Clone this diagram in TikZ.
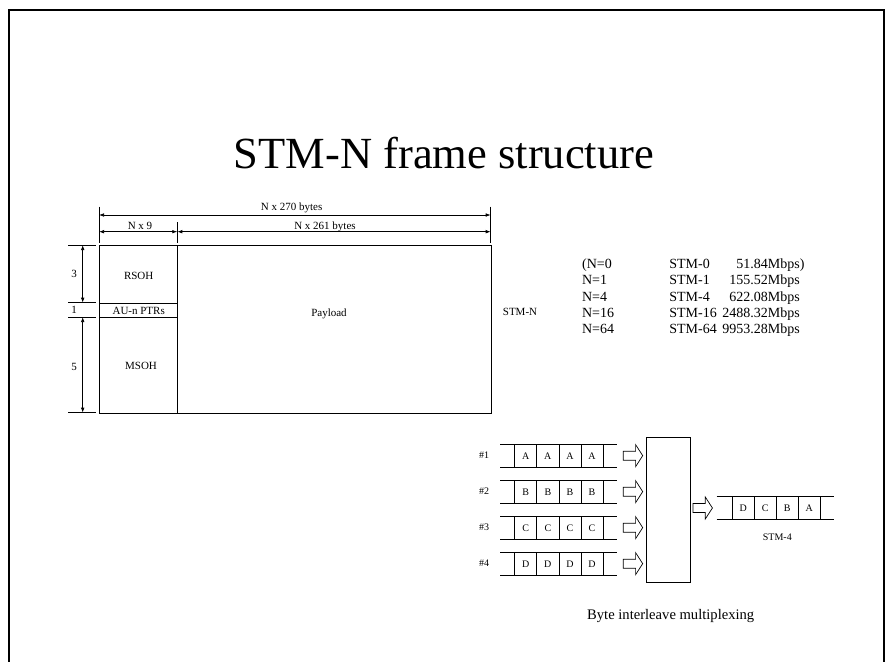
\documentclass[tikz,border=0pt]{standalone}
\usepackage{fontspec}
\setmainfont{Liberation Serif}
\usetikzlibrary{arrows.meta}
\begin{document}
\begin{tikzpicture}[x=1pt,y=-1pt,line width=0.8pt,
  lbl/.style={font=\fontsize{11}{13}\selectfont,inner sep=0pt,anchor=base},
  tbl/.style={font=\fontsize{14}{16}\selectfont,inner sep=0pt,anchor=base west},
  sml/.style={font=\fontsize{10}{12}\selectfont,inner sep=0pt,anchor=base},
  dim/.style={{Latex[length=5pt,width=3.6pt]}-{Latex[length=5pt,width=3.6pt]},line width=0.7pt},
  cell/.style={draw,inner sep=0pt,minimum width=22.1pt,minimum height=22.7pt,font=\fontsize{10}{12}\selectfont},
  blockarr/.pic={\draw[line width=0.7pt] (-9.7,-4.5) -- (2.6,-4.5) -- (2.6,-11) -- (9.7,0) -- (2.6,11) -- (2.6,4.5) -- (-9.7,4.5) -- cycle;}]
\useasboundingbox (0,0) rectangle (888,661);
% page frame
\draw[line width=2pt] (8.5,675) -- (8.5,10) -- (883.7,10) -- (883.7,675);
% title
\node[font=\fontsize{44.5}{50}\selectfont,inner sep=0pt,anchor=base] (title) at (444,168) {STM-N frame structure};

% frame structure
\node[draw,inner sep=0pt,minimum width=78.3pt,minimum height=57.7pt,anchor=north west] (rsoh) at (99,245) {};
\node[draw,inner sep=0pt,minimum width=78.3pt,minimum height=14.3pt,anchor=north west] (au) at (99,302.7) {};
\node[draw,inner sep=0pt,minimum width=78.3pt,minimum height=95.7pt,anchor=north west] (msoh) at (99,317) {};
\node[draw,inner sep=0pt,minimum width=313.4pt,minimum height=167.7pt,anchor=north west] (pay) at (177.3,245) {};
\node[lbl] (rsohT) at (138.7,279.3) {RSOH};
\node[lbl] (auT) at (138.7,314.2) {AU-n PTRs};
\node[lbl] (msohT) at (141,369.6) {MSOH};
\node[lbl] (payT) at (329,316.2) {Payload};
\node[lbl] (stmn) at (520,315.6) {STM-N};

% top dimensions
\coordinate (t1a) at (99,206.5);  \coordinate (t1b) at (99,242.5);
\coordinate (t2a) at (177.3,222); \coordinate (t2b) at (177.3,242.5);
\coordinate (t3a) at (490.7,206.5); \coordinate (t3b) at (490.7,242.5);
\draw[line width=0.7pt] (t1a) -- (t1b);
\draw[line width=0.7pt] (t2a) -- (t2b);
\draw[line width=0.7pt] (t3a) -- (t3b);
\coordinate (d1l) at (99,215); \coordinate (d1r) at (490.7,215);
\coordinate (d2l) at (99,231.7); \coordinate (d2m) at (177.3,231.7); \coordinate (d2r) at (490.7,231.7);
\draw[dim] (d1l) -- (d1r);
\draw[dim] (d2l) -- (d2m);
\draw[dim] (d2m) -- (d2r);
\node[lbl] (n270) at (291.7,210.3) {N x 270 bytes};
\node[lbl] (n9) at (140,229.3) {N x 9};
\node[lbl] (n261) at (325,229.3) {N x 261 bytes};

% left dimensions
\coordinate (h1a) at (68,245);   \coordinate (h1b) at (96,245);
\coordinate (h2a) at (68,302.7); \coordinate (h2b) at (96,302.7);
\coordinate (h3a) at (68,317);   \coordinate (h3b) at (96,317);
\coordinate (h4a) at (68,412.7); \coordinate (h4b) at (96,412.7);
\draw[line width=0.7pt] (h1a) -- (h1b);
\draw[line width=0.7pt] (h2a) -- (h2b);
\draw[line width=0.7pt] (h3a) -- (h3b);
\draw[line width=0.7pt] (h4a) -- (h4b);
\coordinate (v1a) at (82.7,245); \coordinate (v1b) at (82.7,302.7);
\coordinate (v2a) at (82.7,317); \coordinate (v2b) at (82.7,412.7);
\draw[dim] (v1a) -- (v1b);
\draw[dim] (v2a) -- (v2b);
\node[lbl] (l3) at (74,277.6) {3};
\node[lbl] (l1) at (74,313.3) {1};
\node[lbl] (l5) at (74,370.3) {5};

% table
\foreach \i/\a/\b/\c/\d in {0/(N=0/STM-0/51/.84Mbps),1/N=1/STM-1/155/.52Mbps,2/N=4/STM-4/622/.08Mbps,3/N=16/STM-16/2488/.32Mbps,4/N=64/STM-64/9953/.28Mbps}{
  \node[tbl] (ta\i) at (581.7,268.6+16.3*\i) {\a};
  \node[tbl] (tb\i) at (669,268.6+16.3*\i) {\b};
  \node[tbl] (tc\i) at (750,268.6+16.3*\i) {\llap{\c}\d};
}

% byte interleave
\foreach \i/\L in {0/A,1/B,2/C,3/D}{
  \pgfmathsetmacro{\yt}{444.3+36*\i}
  \pgfmathsetmacro{\yb}{\yt+22.7}
  \pgfmathsetmacro{\yc}{\yt+11.35}
  \coordinate (r\i tl) at (500,\yt); \coordinate (r\i tr) at (616.7,\yt);
  \coordinate (r\i bl) at (500,\yb); \coordinate (r\i br) at (616.7,\yb);
  \draw[line width=0.7pt] (r\i tl) -- (r\i tr);
  \draw[line width=0.7pt] (r\i bl) -- (r\i br);
  \foreach \k in {0,1,2,3}{
    \node[cell,anchor=north west] (c\i\k) at (514.3+22.1*\k,\yt) {\L};
  }
  \node[sml] (lab\i) at (484,\yc+3.3) {\#\pgfmathparse{int(\i+1)}\pgfmathresult};
  \pic at (633,\yc) {blockarr};
}
\node[draw,inner sep=0pt,minimum width=44.3pt,minimum height=144.7pt,anchor=north west] (mux) at (645.7,437) {};
\pic at (702.7,508) {blockarr};
\coordinate (otl) at (716.7,496); \coordinate (otr) at (834,496);
\coordinate (obl) at (716.7,519.3); \coordinate (obr) at (834,519.3);
\draw[line width=0.7pt] (otl) -- (otr);
\draw[line width=0.7pt] (obl) -- (obr);
\foreach \k/\L in {0/D,1/C,2/B,3/A}{
  \node[cell,minimum width=22pt,minimum height=23.3pt,anchor=north west] (o\k) at (731.7+22*\k,496) {\L};
}
\node[sml] (stm4) at (777.3,540.8) {STM-4};
\node[font=\fontsize{14.6}{17}\selectfont,inner sep=0pt,anchor=base] (cap) at (670.7,619) {Byte interleave multiplexing};
\end{tikzpicture}
\end{document}
